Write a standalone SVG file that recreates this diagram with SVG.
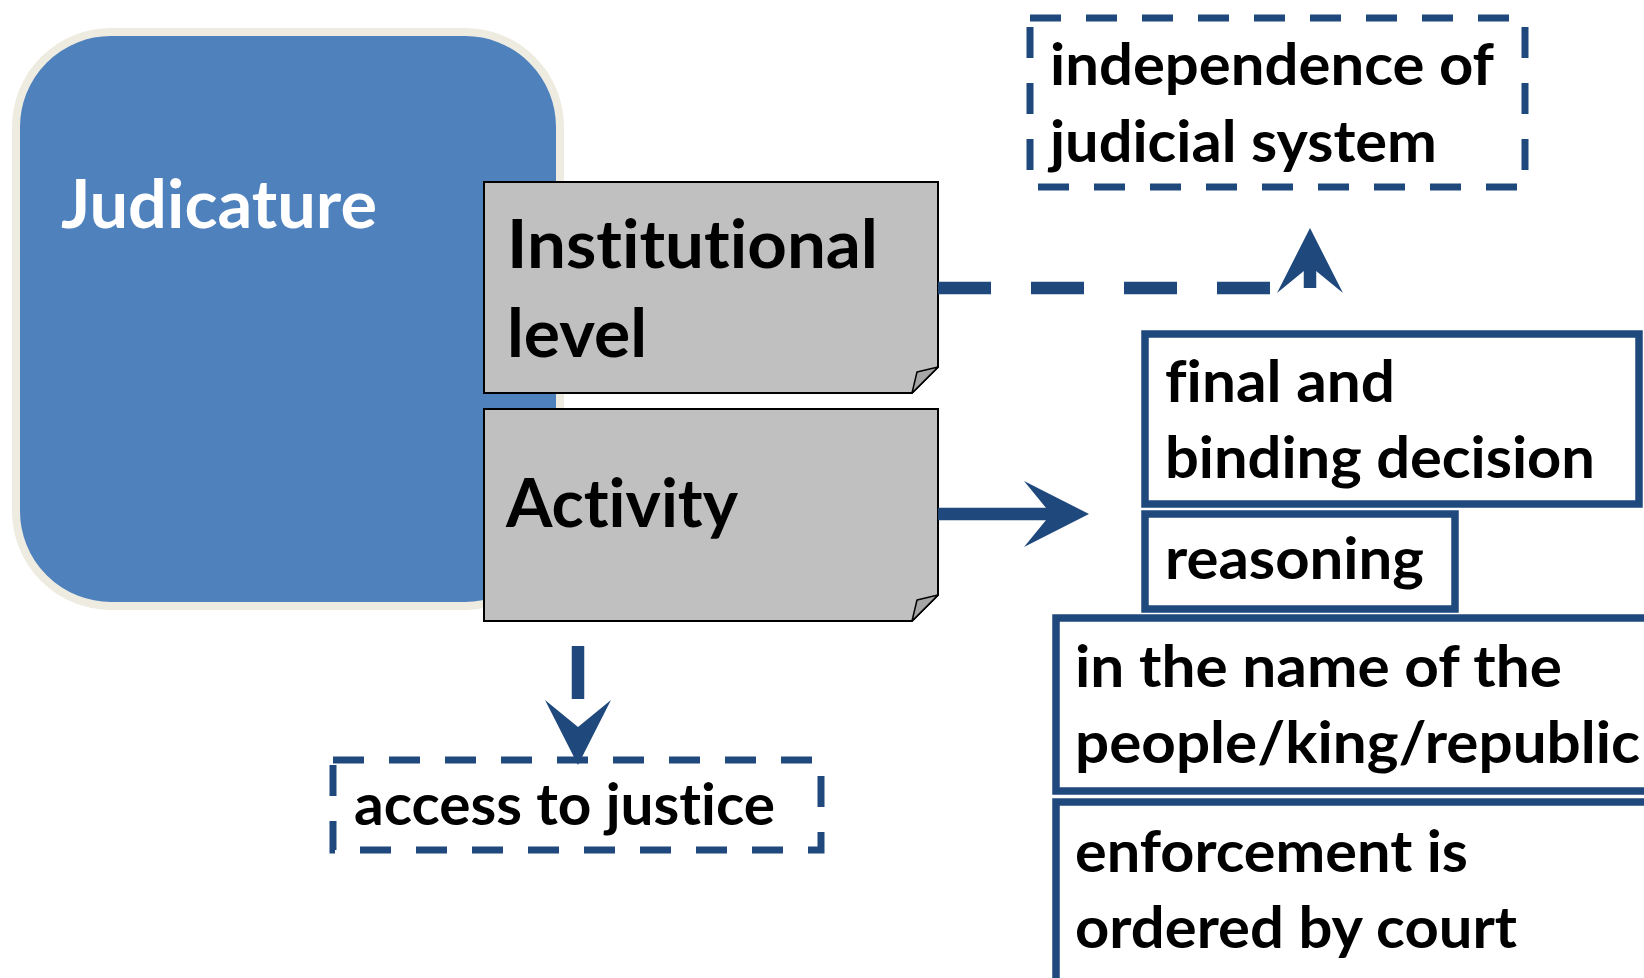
<svg xmlns="http://www.w3.org/2000/svg" width="1644" height="978" viewBox="0 0 1644 978">
<style>
  text { font-family: Lato, "Liberation Sans", sans-serif; font-weight: bold; fill: #000; font-variant-ligatures: none; font-feature-settings: "liga" 0; }
  .big { font-size: 67px; }
  .mid { font-size: 58px; }
  .white { fill: #FFFFFF; }
  .note { fill: #C0C0C0; stroke: #000; stroke-width: 2; }
  .fold { fill: #A6A6A6; stroke: #000; stroke-width: 1.5; stroke-linejoin: round; }
  .solidbox { fill: #FFFFFF; stroke: #1F497D; stroke-width: 7.5; }
  .dashbox { fill: none; stroke: #1F497D; stroke-width: 7; stroke-dasharray: 31 25; }
  .conn { fill: none; stroke: #1F497D; stroke-width: 12.5; }
  .dashed { stroke-dasharray: 53 40; }
</style>
<defs>
  <marker id="ah" viewBox="-40 -40 90 80" markerWidth="90" markerHeight="80" refX="0" refY="0" orient="auto" markerUnits="userSpaceOnUse">
    <path d="M38,0 L-27,-33 L0,0 L-27,33 Z" fill="#1F497D"/>
  </marker>
</defs>

<g id="judicature">
  <rect x="16" y="32" width="544" height="574" rx="95" ry="95" fill="#4F81BD" stroke="#EEECE1" stroke-width="8"/>
  <text class="big white" x="61" y="228" textLength="316" lengthAdjust="spacingAndGlyphs">Judicature</text>
</g>

<g id="institutional-level">
  <path class="note" d="M484,182 H938 V367 L912,393 H484 Z"/>
  <path class="fold" d="M938,367 L917,372 L912,393 Z"/>
  <text class="big" x="507" y="268" textLength="371" lengthAdjust="spacingAndGlyphs">Institutional</text>
  <text class="big" x="507" y="357" textLength="140" lengthAdjust="spacingAndGlyphs">level</text>
</g>

<g id="activity">
  <path class="note" d="M484,409 H938 V595 L912,621 H484 Z"/>
  <path class="fold" d="M938,595 L917,600 L912,621 Z"/>
  <text class="big" x="506" y="527" textLength="232" lengthAdjust="spacingAndGlyphs">Activity</text>
</g>

<g id="independence">
  <rect class="dashbox" x="1030" y="18" width="495" height="169"/>
  <text class="mid" x="1050" y="85" textLength="444" lengthAdjust="spacingAndGlyphs">independence of</text>
  <text class="mid" x="1050" y="162" textLength="387" lengthAdjust="spacingAndGlyphs">judicial system</text>
</g>

<g id="access">
  <rect class="dashbox" x="333" y="760" width="488" height="90"/>
  <text class="mid" x="354" y="825" textLength="421" lengthAdjust="spacingAndGlyphs">access to justice</text>
</g>

<g id="final-binding">
  <rect class="solidbox" x="1145" y="334" width="494" height="170"/>
  <text class="mid" x="1165" y="402" textLength="230" lengthAdjust="spacingAndGlyphs">final and</text>
  <text class="mid" x="1165" y="478" textLength="430" lengthAdjust="spacingAndGlyphs">binding decision</text>
</g>

<g id="reasoning">
  <rect class="solidbox" x="1145" y="514" width="310" height="95"/>
  <text class="mid" x="1165" y="579" textLength="259" lengthAdjust="spacingAndGlyphs">reasoning</text>
</g>

<g id="in-the-name">
  <rect class="solidbox" x="1056" y="618" width="620" height="173"/>
  <text class="mid" x="1075" y="687" textLength="487" lengthAdjust="spacingAndGlyphs">in the name of the</text>
  <text class="mid" x="1075" y="763" textLength="565" lengthAdjust="spacingAndGlyphs">people/king/republic</text>
</g>

<g id="enforcement">
  <rect class="solidbox" x="1056" y="802" width="620" height="220"/>
  <text class="mid" x="1075" y="872" textLength="393" lengthAdjust="spacingAndGlyphs">enforcement is</text>
  <text class="mid" x="1075" y="948" textLength="442" lengthAdjust="spacingAndGlyphs">ordered by court</text>
</g>

<g id="connectors">
  <path class="conn dashed" d="M938,288 H1310 V266" marker-end="url(#ah)"/>
  <path class="conn" d="M938,514 H1051" marker-end="url(#ah)"/>
  <path class="conn dashed" d="M578,621 V727" stroke-dashoffset="68" marker-end="url(#ah)"/>
</g>
</svg>
